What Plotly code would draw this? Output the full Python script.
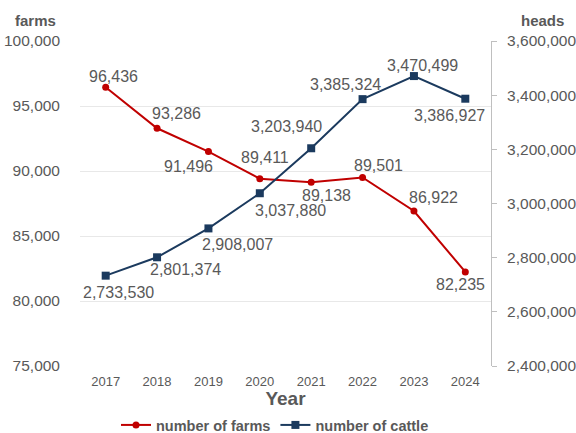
import plotly.graph_objects as go

years = [2017, 2018, 2019, 2020, 2021, 2022, 2023, 2024]
farms = [96436, 93286, 91496, 89411, 89138, 89501, 86922, 82235]
cattle = [2733530, 2801374, 2908007, 3037880, 3203940, 3385324, 3470499, 3386927]

farm_tick_vals = [75000, 80000, 85000, 90000, 95000, 100000]
cattle_tick_vals = [2400000, 2600000, 2800000, 3000000, 3200000, 3400000, 3600000]

# label offsets (px) for data labels
farm_offsets = [(8, 11), (19, 15), (-20, -15), (5, 21), (15, -13), (16, 12), (20, 14), (-5, -13)]
cattle_offsets = [(13, -17), (28, -12), (29, -16), (31, -17), (-25, 22), (-17, 15), (9, 11), (-16, -17)]

FONT = "Liberation Sans, Arial, sans-serif"
GRAY = "#595959"
RED = "#C00000"
NAVY = "#1B3A5E"

L, R, T, B = 80, 85, 41, 67
W, H = 576, 433
pw, ph = W - L - R, H - T - B

fig = go.Figure()
fig.add_trace(go.Scatter(
    x=years, y=farms, name="number of farms", mode="lines+markers",
    line=dict(color=RED, width=2), marker=dict(symbol="circle", size=7, color=RED),
    yaxis="y"))
fig.add_trace(go.Scatter(
    x=years, y=cattle, name="number of cattle", mode="lines+markers",
    line=dict(color=NAVY, width=2), marker=dict(symbol="square", size=8, color=NAVY),
    yaxis="y2"))

annotations = []
for x, v, (dx, dy) in zip(years, farms, farm_offsets):
    annotations.append(dict(x=x, y=v, xref="x", yref="y", text=f"{v:,}", showarrow=False,
                            xshift=dx, yshift=dy, xanchor="center", yanchor="middle",
                            font=dict(family=FONT, size=16, color=GRAY)))
for x, v, (dx, dy) in zip(years, cattle, cattle_offsets):
    annotations.append(dict(x=x, y=v, xref="x", yref="y2", text=f"{v:,}", showarrow=False,
                            xshift=dx, yshift=dy, xanchor="center", yanchor="middle",
                            font=dict(family=FONT, size=16, color=GRAY)))


def px_to_paper(px, py):
    return (px - L) / pw, ((H - py) - B) / ph


for label, (px, py) in [("farms", (35, 20)), ("heads", (542, 20))]:
    ax, ay = px_to_paper(px, py)
    annotations.append(dict(x=ax, y=ay, xref="paper", yref="paper", text=f"<b>{label}</b>",
                            showarrow=False, xanchor="center", yanchor="middle",
                            font=dict(family=FONT, size=15, color=GRAY)))

fig.update_layout(
    width=W, height=H,
    margin=dict(l=L, r=R, t=T, b=B, pad=0, autoexpand=False),
    paper_bgcolor="white", plot_bgcolor="white",
    font=dict(family=FONT, color=GRAY),
    showlegend=True,
    legend=dict(orientation="h", x=275 / W, xanchor="center", xref="container",
                y=(H - 409) / H, yanchor="top", yref="container",
                font=dict(family=FONT, size=14.5, color=GRAY, weight="bold"),
                itemwidth=30, tracegroupgap=0),
    xaxis=dict(range=[2016.5, 2024.5], tickvals=years, ticktext=[str(y) for y in years],
               showgrid=False, showline=False, ticks="", zeroline=False, automargin=False,
               tickfont=dict(family=FONT, size=13, color=GRAY),
               ticklabelstandoff=6,
               title=dict(text="<b>Year</b>", font=dict(family=FONT, size=19, color=GRAY), standoff=4)),
    yaxis=dict(range=[75000, 100000], tickvals=farm_tick_vals, tickformat=",",
               showgrid=True, gridcolor="#E8E8E8", gridwidth=1, showline=False, zeroline=False,
               ticks="", ticklabelstandoff=19, automargin=False,
               tickfont=dict(family=FONT, size=15.5, color=GRAY)),
    yaxis2=dict(range=[2400000, 3600000], tickvals=cattle_tick_vals, tickformat=",",
                overlaying="y", side="right", showgrid=False, zeroline=False,
                showline=True, linecolor="#BFBFBF", linewidth=1, automargin=False,
                ticks="outside", ticklen=5, tickcolor="#BFBFBF", ticklabelstandoff=7,
                tickfont=dict(family=FONT, size=15.5, color=GRAY)),
    annotations=annotations,
)

fig.write_html("out.html", config={"displayModeBar": False},
               post_script="document.body.style.margin='0';document.body.style.overflow='hidden';")
